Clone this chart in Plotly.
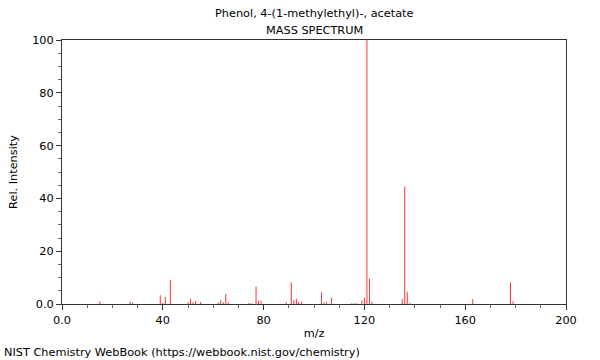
import plotly.graph_objects as go

title_line1 = "Phenol, 4-(1-methylethyl)-, acetate"
title_line2 = "MASS SPECTRUM"
footer = "NIST Chemistry WebBook (https://webbook.nist.gov/chemistry)"

mz = [15, 27, 28, 39, 40, 41, 43, 50, 51, 52, 53, 55, 62, 63, 64, 65, 66,
      74, 75, 77, 78, 79, 89, 91, 92, 93, 94, 95, 103, 104, 105, 107,
      115, 116, 117, 119, 120, 121, 122, 123, 135, 136, 137, 138, 163, 178, 179]
intensity = [1.0, 0.9, 0.5, 3.3, 0.5, 2.7, 9.2, 0.7, 1.9, 0.7, 1.1, 0.8, 0.6, 1.5, 0.6, 3.8, 0.7,
             0.3, 0.3, 6.6, 1.2, 1.2, 0.6, 8.2, 1.5, 2.0, 0.8, 0.8, 4.5, 0.6, 0.6, 2.3,
             0.3, 0.3, 0.3, 1.3, 2.4, 100.0, 9.6, 0.9, 1.9, 44.5, 4.5, 0.4, 1.9, 8.2, 1.1]

x_ticks = [0, 40, 80, 120, 160, 200]
x_tick_labels = ["0.0", "40", "80", "120", "160", "200"]
y_ticks = [0, 20, 40, 60, 80, 100]
y_tick_labels = ["0.0", "20", "40", "60", "80", "100"]

xs, ys = [], []
for m, v in zip(mz, intensity):
    xs += [m, m, None]
    ys += [0, v, None]

fig = go.Figure()
fig.add_trace(go.Scatter(x=xs, y=ys, mode="lines",
                         line=dict(color="#ff3030", width=1),
                         hoverinfo="skip", showlegend=False))

font = dict(family="DejaVu Sans", size=11.3, color="#000000")
fig.update_layout(
    width=600, height=360,
    margin=dict(l=62, r=34, t=40, b=56),
    paper_bgcolor="white", plot_bgcolor="white",
    font=font,
    showlegend=False,
    xaxis=dict(range=[0, 200], tickvals=x_ticks, ticktext=x_tick_labels,
               ticks="outside", ticklen=5, tickcolor="#333", tickwidth=1,
               showline=True, linecolor="#333", linewidth=1, mirror=True,
               showgrid=False, zeroline=False,
               minor=dict(dtick=10, ticks="outside", ticklen=3, tickcolor="#666", showgrid=False),
               title=dict(text="m/z", font=font, standoff=3),
               tickfont=font),
    yaxis=dict(range=[0, 100], tickvals=y_ticks, ticktext=y_tick_labels,
               ticks="outside", ticklen=5, tickcolor="#333", tickwidth=1,
               showline=True, linecolor="#333", linewidth=1, mirror=True,
               showgrid=False, zeroline=False,
               minor=dict(dtick=5, ticks="outside", ticklen=3, tickcolor="#666", showgrid=False),
               title=dict(text="Rel. Intensity", font=font, standoff=12),
               tickfont=font),
    annotations=[
        dict(text=title_line1, xref="paper", yref="paper", x=0.5, y=1.0, yshift=27,
             xanchor="center", yanchor="middle", showarrow=False, font=font),
        dict(text=title_line2, xref="paper", yref="paper", x=0.5, y=1.0, yshift=10,
             xanchor="center", yanchor="middle", showarrow=False, font=font),
        dict(text=footer, xref="paper", yref="paper", x=-60/504, y=0, yshift=-48,
             xanchor="left", yanchor="middle", showarrow=False, font=font),
    ],
)

fig.write_html("out.html", config={"displayModeBar": False},
               post_script="document.body.style.margin='0';document.body.style.overflow='hidden';")
